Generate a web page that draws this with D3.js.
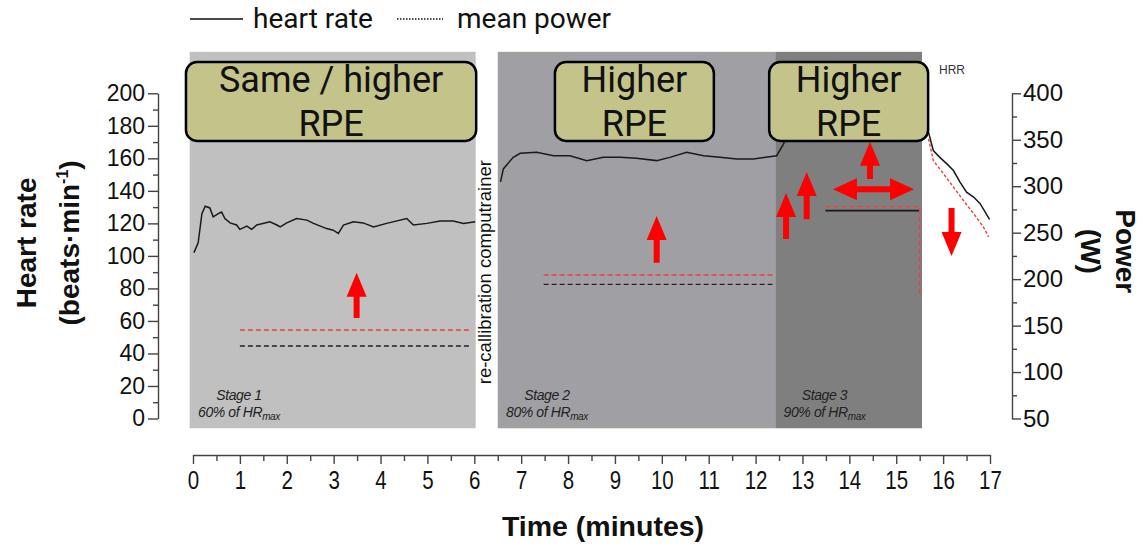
<!DOCTYPE html>
<html>
<head>
<meta charset="utf-8">
<script src="https://cdn.jsdelivr.net/npm/d3@7"></script>
<style>
	body { margin: 0; background: #fff; }
	svg { display: block; }
	.tick text { fill: #111; }
	.axis path, .axis line { stroke: #444; stroke-width: 1.4; }
</style>
</head>
<body>
<div id="chart"></div>
<script>
// stages (minutes)
const stageStart = [-0.07, 6.5, 12.42];
const stageEnd = [6.03, 12.42, 15.55];
const stageNames = ["Stage 1", "Stage 2", "Stage 3"];
const stagePct = ["60%", "80%", "90%"];

// RPE boxes (minutes, beats/min)
const rpeStart = [-0.15, 7.72, 12.29];
const rpeEnd = [6.04, 11.11, 15.68];
const rpeLines = [["Same / higher", "RPE"], ["Higher", "RPE"], ["Higher", "RPE"]];

// heart rate [minute, bpm]
const hrStage1 = [[0.02, 102], [0.11, 108], [0.19, 126], [0.26, 130.5], [0.36, 129.5], [0.43, 124], [0.54, 126], [0.61, 127], [0.68, 123],
	[0.79, 120.3], [0.93, 119], [1.0, 116.3], [1.15, 118.3], [1.25, 116.3], [1.36, 119], [1.64, 121], [1.79, 119], [1.86, 117.8],
	[2.0, 120.3], [2.21, 123], [2.43, 122], [2.57, 120], [2.85, 116.8], [2.99, 115.8], [3.1, 113.8], [3.21, 119], [3.42, 121],
	[3.63, 120.3], [3.85, 117.8], [4.13, 120], [4.56, 123], [4.7, 119], [4.99, 120], [5.27, 121.5], [5.55, 121.5], [5.77, 120], [6.02, 121]];
const hrStage2 = [[6.56, 145.5], [6.62, 153.5], [6.83, 160.6], [6.98, 163.1], [7.33, 163.7], [7.69, 161.6], [8.04, 161.6], [8.4, 158.6],
	[8.75, 160.6], [9.11, 160.6], [9.46, 160], [9.89, 158.6], [10.17, 160.6], [10.53, 163.7], [10.89, 161.6], [11.24, 160.6],
	[11.6, 159.6], [11.95, 159.6], [12.45, 161.6], [12.59, 168.6], [12.7, 175], [13.5, 178], [14.5, 179], [15.4, 180], [15.69, 176]];
const hrRecovery = [[15.69, 176], [15.79, 164.8], [15.93, 160.6], [16.08, 156.6], [16.22, 152.5], [16.36, 145.4], [16.5, 139.2],
	[16.65, 136.2], [16.79, 132.1], [16.99, 122.4]];
const hrRecoveryRed = [[15.69, 172], [15.79, 158.6], [16.01, 150.5], [16.22, 142.3], [16.43, 134.2], [16.65, 126], [16.86, 117.8], [16.97, 111.7]];

// mean power [minute, W]
const powerBlack = [[[1.0, 128], [5.9, 128]], [[7.48, 194.4], [12.36, 194.4]]];
const powerRed = [[[1.0, 145.3], [5.9, 145.3]], [[7.48, 204.4], [12.36, 204.4]], [[13.49, 278], [15.5, 278], [15.5, 181]]];
const powerStage3 = [[13.49, 273.7], [15.5, 273.7]];

// arrows [minute, from bpm, to bpm]
const arrowsVertical = [[3.49, 61.8, 89.7], [9.89, 95.8, 124.5], [12.65, 110.4, 138.7], [13.09, 122.5, 151.6], [14.44, 147.3, 170.2], [16.18, 129.5, 99.9]];
const arrowDouble = [13.65, 15.38, 141];

const hrTicks = d3.range(0, 201, 20);
const powerTicks = d3.range(50, 401, 50);
const timeTicks = d3.range(0, 18, 1);

const width = 1145, height = 546;
const stageFill = ["#c0c0c0", "#a0a0a4", "#7f7f7f"];

const svg = d3.select("#chart").append("svg")
	.attr("width", width)
	.attr("height", height)
	.attr("viewBox", `0 0 ${width} ${height}`);

const x = d3.scaleLinear().domain([0, 17]).range([193, 990]);
const yHR = d3.scaleLinear().domain([0, 200]).range([418.5, 93.3]);
const yPow = d3.scaleLinear().domain([50, 400]).range([418.5, 93.3]);

// background stages
svg.append("g")
	.selectAll("rect")
	.data(stageStart)
	.join("rect")
	.attr("x", (d, i) => x(d))
	.attr("width", (d, i) => x(stageEnd[i]) - x(d))
	.attr("y", yHR(225.5))
	.attr("height", yHR(-6) - yHR(225.5))
	.attr("fill", (d, i) => stageFill[i]);

// stage labels
const stageLab = svg.append("g")
	.attr("font-family", "Liberation Sans, Arial, sans-serif")
	.attr("font-style", "italic")
	.attr("fill", "#222")
	.attr("text-anchor", "middle")
	.attr("letter-spacing", "-0.4");
stageStart.forEach((s, i) => {
	const cx = x(s + 1.05);
	stageLab.append("text")
		.attr("x", cx).attr("y", yHR(-6) - 28)
		.attr("font-size", 14)
		.text(stageNames[i]);
	const t = stageLab.append("text")
		.attr("x", cx).attr("y", yHR(-6) - 11)
		.attr("font-size", 14);
	t.append("tspan").text(stagePct[i] + " of HR");
	t.append("tspan").attr("dy", 3).attr("font-size", 10).text("max");
});

// mean power lines
const powLine = d3.line().x(d => x(d[0])).y(d => yPow(d[1]));
svg.append("g")
	.selectAll("path")
	.data(powerBlack)
	.join("path")
	.attr("d", powLine)
	.attr("fill", "none")
	.attr("stroke", "#222")
	.attr("stroke-width", 1.4)
	.attr("stroke-dasharray", "5,3");
svg.append("path")
	.datum(powerStage3)
	.attr("d", powLine)
	.attr("fill", "none")
	.attr("stroke", "#1a1a1a")
	.attr("stroke-width", 1.6);
svg.append("g")
	.selectAll("path")
	.data(powerRed)
	.join("path")
	.attr("d", powLine)
	.attr("fill", "none")
	.attr("stroke", "#f03c3c")
	.attr("stroke-width", 1.4)
	.attr("stroke-dasharray", "5,3");

// heart rate
const hrLine = d3.line().x(d => x(d[0])).y(d => yHR(d[1]));
svg.append("g")
	.selectAll("path")
	.data([hrStage1, hrStage2, hrRecovery])
	.join("path")
	.attr("d", hrLine)
	.attr("fill", "none")
	.attr("stroke", "#1a1a1a")
	.attr("stroke-width", 1.5);
svg.append("path")
	.datum(hrRecoveryRed)
	.attr("d", hrLine)
	.attr("fill", "none")
	.attr("stroke", "#f03c3c")
	.attr("stroke-width", 1.4)
	.attr("stroke-dasharray", "3,2");

// arrows
function arrowPath(x1, y1, x2, y2) {
	const head = 24, hw = 10, sw = 3;
	const L = Math.hypot(x2 - x1, y2 - y1);
	const ux = (x2 - x1) / L, uy = (y2 - y1) / L, px = -uy, py = ux;
	const bx = x2 - ux * head, by = y2 - uy * head;
	return "M" + [
		[x1 + px * sw, y1 + py * sw], [bx + px * sw, by + py * sw], [bx + px * hw, by + py * hw],
		[x2, y2],
		[bx - px * hw, by - py * hw], [bx - px * sw, by - py * sw], [x1 - px * sw, y1 - py * sw]
	].map(p => p.join(",")).join("L") + "Z";
}
svg.append("g")
	.selectAll("path")
	.data(arrowsVertical)
	.join("path")
	.attr("d", d => arrowPath(x(d[0]), yHR(d[1]), x(d[0]), yHR(d[2])))
	.attr("fill", "#ff0000");

{
	const xl = x(arrowDouble[0]), xr = x(arrowDouble[1]), yy = yHR(arrowDouble[2]);
	const head = 24, hw = 11, sw = 3;
	const pts = [[xl, yy], [xl + head, yy - hw], [xl + head, yy - sw], [xr - head, yy - sw], [xr - head, yy - hw],
		[xr, yy], [xr - head, yy + hw], [xr - head, yy + sw], [xl + head, yy + sw], [xl + head, yy + hw]];
	svg.append("path")
		.attr("d", "M" + pts.map(p => p.join(",")).join("L") + "Z")
		.attr("fill", "#ff0000");
}

// RPE boxes
const boxes = svg.append("g");
rpeStart.forEach((s, i) => {
	const bx = x(s), bw = x(rpeEnd[i]) - x(s);
	const top = yHR(219.2), bh = yHR(170.7) - yHR(219.2);
	boxes.append("rect")
		.attr("x", bx).attr("y", top)
		.attr("width", bw).attr("height", bh)
		.attr("rx", 11)
		.attr("fill", "#c3c38a")
		.attr("stroke", "#000")
		.attr("stroke-width", 2.5);
	rpeLines[i].forEach((ln, j) => {
		boxes.append("text")
			.attr("x", bx + bw / 2)
			.attr("y", top + 30 + j * 44)
			.attr("text-anchor", "middle")
			.attr("font-family", "Roboto, sans-serif")
			.attr("font-size", 36)
			.attr("fill", "#111")
			.text(ln);
	});
});

// HRR + recalibration
svg.append("text")
	.attr("x", 939).attr("y", 74)
	.attr("font-family", "Liberation Sans, Arial, sans-serif")
	.attr("font-size", 12)
	.attr("fill", "#334")
	.text("HRR");
svg.append("text")
	.attr("transform", `translate(${x(6.27) + 4},${yHR(90)}) rotate(-90)`)
	.attr("text-anchor", "middle")
	.attr("font-family", "Liberation Sans, Arial, sans-serif")
	.attr("font-size", 18.5)
	.attr("fill", "#111")
	.text("re-callibration computrainer");

// axes
const tickFont = "Liberation Sans, Arial, sans-serif";
const gL = svg.append("g").attr("class", "axis")
	.attr("transform", `translate(158,0)`)
	.call(d3.axisLeft(yHR).tickValues(hrTicks).tickSize(10).tickSizeOuter(0).tickPadding(3));
svg.append("g").attr("class", "axis")
	.attr("transform", `translate(158,0)`)
	.call(d3.axisLeft(yHR).tickValues(d3.range(10, 200, 20)).tickSize(5).tickFormat("").tickSizeOuter(0))
	.select(".domain").remove();
gL.selectAll("text").attr("font-family", tickFont).attr("font-size", 23);

const gR = svg.append("g").attr("class", "axis")
	.attr("transform", `translate(1012,0)`)
	.call(d3.axisRight(yPow).tickValues(powerTicks).tickSize(9).tickSizeOuter(0).tickPadding(2));
svg.append("g").attr("class", "axis")
	.attr("transform", `translate(1012,0)`)
	.call(d3.axisRight(yPow).tickValues(d3.range(75, 400, 50)).tickSize(5).tickFormat("").tickSizeOuter(0))
	.select(".domain").remove();
gR.selectAll("text").attr("font-family", tickFont).attr("font-size", 24);

const gX = svg.append("g").attr("class", "axis")
	.attr("transform", `translate(0,455)`)
	.call(d3.axisBottom(x).tickValues(timeTicks).tickSize(-9).tickSizeOuter(0).tickPadding(0));
svg.append("g").attr("class", "axis")
	.attr("transform", `translate(0,455)`)
	.call(d3.axisBottom(x).tickValues(d3.range(0.5, 17, 1)).tickSize(-5).tickFormat("").tickSizeOuter(0))
	.select(".domain").remove();
gX.selectAll(".tick line").attr("y2", 9);
svg.selectAll(".axis .tick line").filter(function () { return +this.getAttribute("y2") === -5; }).attr("y2", 6);
gX.selectAll("text")
	.attr("font-family", tickFont)
	.attr("font-size", 25)
	.attr("y", 0).attr("dy", 0)
	.attr("transform", "translate(0,34) scale(0.82,1)");

// axis titles
const titleFont = "Liberation Sans, Arial, sans-serif";
svg.append("text")
	.attr("transform", `translate(36,${yHR(108)}) rotate(-90)`)
	.attr("text-anchor", "middle")
	.attr("font-family", titleFont).attr("font-weight", "bold").attr("font-size", 28)
	.attr("fill", "#111")
	.text("Heart rate");
{
	const t = svg.append("text")
		.attr("transform", `translate(79,${yHR(108)}) rotate(-90)`)
		.attr("text-anchor", "middle")
		.attr("font-family", titleFont).attr("font-weight", "bold").attr("font-size", 28)
		.attr("fill", "#111");
	t.append("tspan").text("(beats·min");
	t.append("tspan").attr("dy", -11).attr("font-size", 16).text("-1");
	t.append("tspan").attr("dy", 11).text(")");
}
svg.append("text")
	.attr("transform", `translate(1116,${yPow(230)}) rotate(90)`)
	.attr("text-anchor", "middle")
	.attr("font-family", titleFont).attr("font-weight", "bold").attr("font-size", 28)
	.attr("fill", "#111")
	.text("Power");
svg.append("text")
	.attr("transform", `translate(1081,${yPow(230)}) rotate(90)`)
	.attr("text-anchor", "middle")
	.attr("font-family", titleFont).attr("font-weight", "bold").attr("font-size", 28)
	.attr("fill", "#111")
	.text("(W)");
svg.append("text")
	.attr("x", 603).attr("y", 536)
	.attr("text-anchor", "middle")
	.attr("font-family", titleFont).attr("font-weight", "bold").attr("font-size", 28.5)
	.attr("fill", "#111")
	.text("Time (minutes)");

// legend
const leg = svg.append("g").attr("font-family", "Roboto, sans-serif").attr("font-size", 28).attr("fill", "#111");
leg.append("line").attr("x1", 190).attr("x2", 243).attr("y1", 19).attr("y2", 19).attr("stroke", "#111").attr("stroke-width", 1.5);
leg.append("text").attr("x", 253).attr("y", 28).text("heart rate");
leg.append("line").attr("x1", 397).attr("x2", 443).attr("y1", 19).attr("y2", 19).attr("stroke", "#111").attr("stroke-width", 1.3).attr("stroke-dasharray", "1.5,1.5");
leg.append("text").attr("x", 457).attr("y", 28).text("mean power");
</script>
</body>
</html>
